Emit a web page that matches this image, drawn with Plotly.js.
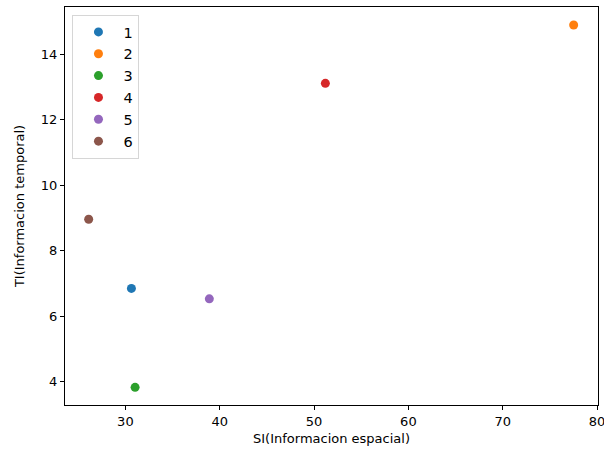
<!DOCTYPE html>
<html>
<head>
<meta charset="utf-8">
<script src="https://cdn.plot.ly/plotly-3.0.1.min.js"></script>
<style>html,body{margin:0;padding:0;background:#fff;}#chart{width:604px;height:453px;}</style>
</head>
<body>
<div id="chart"></div>
<script>
const labels = ["1", "2", "3", "4", "5", "6"];
const siValues = [30.64, 77.52, 31.03, 51.2, 38.9, 26.11];
const tiValues = [6.85, 14.89, 3.83, 13.11, 6.53, 8.96];
const colors = ["#1f77b4", "#ff7f0e", "#2ca02c", "#d62728", "#9467bd", "#8c564b"];
const xTicks = [30, 40, 50, 60, 70, 80];
const yTicks = [4, 6, 8, 10, 12, 14];

const traces = labels.map((lab, i) => ({
  type: "scatter",
  mode: "markers",
  name: lab,
  x: [siValues[i]],
  y: [tiValues[i]],
  marker: {color: colors[i], size: 9, line: {width: 0}}
}));

const font = {family: "DejaVu Sans, sans-serif", size: 13, color: "#000"};
const layout = {
  width: 604, height: 453,
  margin: {l: 65, r: 6, t: 7, b: 48},
  paper_bgcolor: "#fff", plot_bgcolor: "#fff",
  font: font,
  showlegend: true,
  legend: {
    x: 0.014, y: 0.98, xanchor: "left", yanchor: "top",
    bgcolor: "rgba(255,255,255,0.8)", bordercolor: "#d6d6d6", borderwidth: 1,
    font: {family: "DejaVu Sans, sans-serif", size: 14.5, color: "#000"},
    itemwidth: 40
  },
  xaxis: {
    range: [23.6, 80.1],
    tickvals: xTicks, ticktext: xTicks.map(String),
    ticks: "outside", ticklen: 4, tickwidth: 1, tickcolor: "#000",
    ticklabeloverflow: "allow",
    showline: true, linecolor: "#000", linewidth: 1, mirror: true,
    showgrid: false, zeroline: false,
    title: {text: "SI(Informacion espacial)", font: font, standoff: 6}
  },
  yaxis: {
    range: [3.29, 15.44],
    tickvals: yTicks, ticktext: yTicks.map(String),
    ticks: "outside", ticklen: 4, tickwidth: 1, tickcolor: "#000",
    showline: true, linecolor: "#000", linewidth: 1, mirror: true,
    showgrid: false, zeroline: false,
    title: {text: "TI(Informacion temporal)", font: font, standoff: 13}
  }
};

Plotly.newPlot("chart", traces, layout, {displayModeBar: false, staticPlot: true});
</script>
</body>
</html>
